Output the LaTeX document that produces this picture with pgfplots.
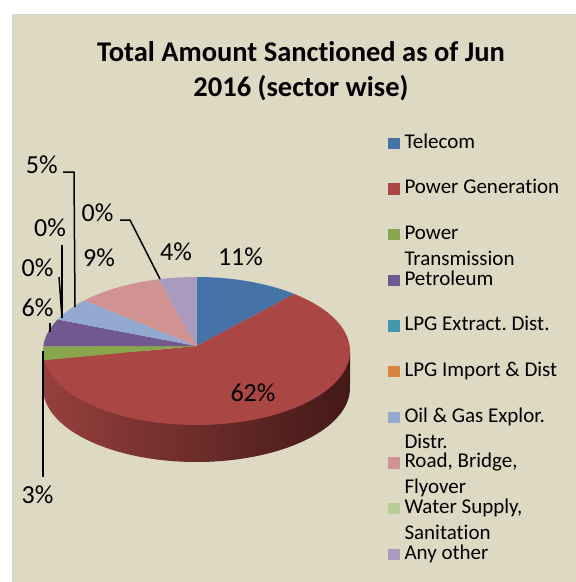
\documentclass[border=0pt]{standalone}
\usepackage{pgfplots}
\pgfplotsset{compat=1.18}
\usepackage{fontspec}
\setmainfont{Carlito}[Ligatures=NoCommon]
\frenchspacing
\definecolor{bg}{HTML}{DDD9C3}
\definecolor{c1}{HTML}{4572A7}
\definecolor{c2}{HTML}{AA4643}
\definecolor{c3}{HTML}{89A54E}
\definecolor{c4}{HTML}{71588F}
\definecolor{c5}{HTML}{4198AF}
\definecolor{c6}{HTML}{DB843D}
\definecolor{c7}{HTML}{93A9CF}
\definecolor{c8}{HTML}{D19392}
\definecolor{c9}{HTML}{B9CD96}
\definecolor{c10}{HTML}{A99BBD}
\definecolor{sideL}{HTML}{96403D}
\definecolor{sideR}{HTML}{431918}
\definecolor{sideG}{HTML}{5E7234}
\def\cx{196.5}\def\cy{351}\def\rx{153.5}\def\ry{74}\def\dd{37}
\def\vx{196.5}\def\vy{346}
% slice: #1 cumulative start percent, #2 cumulative end percent, #3 colour
\newcommand\slice[3]{%
  \pgfmathsetmacro\angA{90-3.6*#2}%
  \pgfmathsetmacro\angB{90-3.6*#1}%
  \addplot[forget plot, draw=none, fill=#3, domain=\angA:\angB, samples=120, variable=\t]
    ({\cx+\rx*cos(\t)}, {\cy-\ry*sin(\t)}) -- (axis cs:\vx,\vy) -- cycle;
}
\newcommand\lab[3]{\node[anchor=base, inner sep=0pt, font=\fontsize{26}{30}\selectfont] at (axis cs:#1,#2) {#3};}
\begin{document}
\begin{tikzpicture}
\fill[white] (0,0) rectangle (576pt,582pt);
\fill[bg] (12pt,0) rectangle (576pt,568pt);
\begin{axis}[at={(12pt,0pt)}, anchor=south west,
  width=564pt, height=568pt, scale only axis, hide axis,
  xmin=12, xmax=576, ymin=14, ymax=582, y dir=reverse, clip=false,
  legend style={at={(axis cs:388,133)}, anchor=north west, draw=none, fill=none,
    inner sep=0pt, outer sep=0pt, row sep=25.67pt, column sep=5pt,
    nodes={inner sep=0pt, text height=15pt, text depth=5pt,
      font=\fontsize{21}{26}\selectfont}},
  legend cell align=left,
  legend image code/.code={\fill[#1] (0pt,-6pt) rectangle (11.5pt,5.5pt);},
]
% side of the pie
\addplot[forget plot, draw=none, left color=sideL, right color=sideR, domain=180:360, samples=120, variable=\t]
  ({\cx+\rx*cos(\t)}, {\cy+\dd-\ry*sin(\t)}) -- (axis cs:350,351) -- (axis cs:43,351) -- cycle;
\addplot[forget plot, draw=none, fill=sideG, domain=180:187.2, samples=10, variable=\t]
  ({\cx+\rx*cos(\t)}, {\cy+\dd-\ry*sin(\t)}) -- (axis cs:44.2,360.3) -- (axis cs:43,351) -- cycle;
% top face: Telecom 11, Power Generation 62, Power Transmission 3, Petroleum 6,
% LPG Extract 0, LPG Import 0, Oil & Gas 5, Road 9, Water 0, Any other 4
\slice{0}{11}{c1}
\slice{11}{73}{c2}
\slice{73}{76}{c3}
\slice{76}{82}{c4}
\slice{82}{87}{c7}
\slice{87}{96}{c8}
\slice{96}{100}{c10}
% legend
\addlegendimage{fill=c1,draw=none}\addlegendentry{Telecom}
\addlegendimage{fill=c2,draw=none}\addlegendentry{Power Generation}
\addlegendimage{fill=c3,draw=none}\addlegendentry{\smash{\parbox[t]{160pt}{Power\\Transmission}}}
\addlegendimage{fill=c4,draw=none}\addlegendentry{Petroleum}
\addlegendimage{fill=c5,draw=none}\addlegendentry{LPG Extract. Dist.}
\addlegendimage{fill=c6,draw=none}\addlegendentry{LPG Import \& Dist}
\addlegendimage{fill=c7,draw=none}\addlegendentry{\smash{\parbox[t]{160pt}{Oil \& Gas Explor.\\Distr.}}}
\addlegendimage{fill=c8,draw=none}\addlegendentry{\smash{\parbox[t]{160pt}{Road, Bridge,\\Flyover}}}
\addlegendimage{fill=c9,draw=none}\addlegendentry{\smash{\parbox[t]{160pt}{Water Supply,\\Sanitation}}}
\addlegendimage{fill=c10,draw=none}\addlegendentry{Any other}
% leader lines
\draw[line width=1.5pt] (axis cs:120,220) -- (axis cs:130,220) -- (axis cs:160,279);
\draw[line width=1.5pt] (axis cs:63,172) -- (axis cs:74,172) -- (axis cs:75,307);
\draw[line width=1.5pt] (axis cs:62,245) -- (axis cs:62,318);
\draw[line width=1.5pt] (axis cs:59,277) -- (axis cs:62,318);
\draw[line width=1.5pt] (axis cs:50,323) -- (axis cs:50,332);
\draw[line width=1.5pt] (axis cs:43,351) -- (axis cs:43,477);
% labels
\lab{240.5}{265}{11\%}
\lab{176}{260}{4\%}
\lab{97.5}{221.7}{0\%}
\lab{99}{266.7}{9\%}
\lab{41.7}{173.3}{5\%}
\lab{50}{236.7}{0\%}
\lab{37.5}{276.7}{0\%}
\lab{37.5}{316.7}{6\%}
\lab{37.5}{503.3}{3\%}
\lab{253}{401.7}{62\%}
% title
\node[anchor=base, inner sep=0pt, font=\fontsize{28.5}{34}\selectfont\bfseries] at (axis cs:301,61.7) {Total Amount Sanctioned as of Jun};
\node[anchor=base, inner sep=0pt, font=\fontsize{28.5}{34}\selectfont\bfseries] at (axis cs:301,96) {2016 (sector wise)};
\end{axis}
\end{tikzpicture}
\end{document}
